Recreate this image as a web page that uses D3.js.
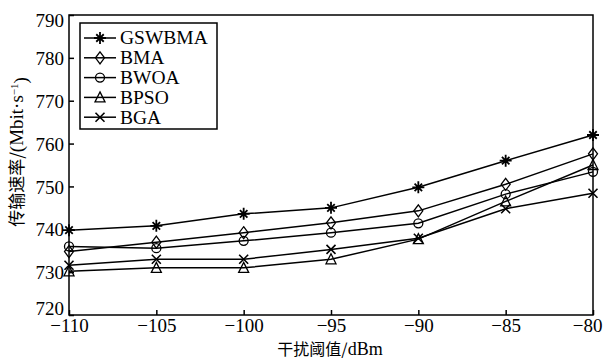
<!DOCTYPE html>
<html><head><meta charset="utf-8">
<script src="https://cdn.jsdelivr.net/npm/d3@7"></script>
<style>
body{margin:0;background:#fff;}
svg{display:block;}
text{font-family:"Liberation Serif","Times New Roman",serif;fill:#000;}
</style></head>
<body><svg id="c" width="603" height="359"></svg>
<script>
const xValues = [-110, -105, -100, -95, -90, -85, -80];
const seriesNames = ["GSWBMA", "BMA", "BWOA", "BPSO", "BGA"];
const gswbma = [739.8, 740.8, 743.6, 745.0, 749.8, 756.0, 762.0];
const bma    = [734.8, 737.0, 739.2, 741.5, 744.3, 750.5, 757.6];
const bwoa   = [736.0, 735.6, 737.3, 739.2, 741.4, 748.2, 753.4];
const bpso   = [730.2, 731.0, 731.0, 733.0, 737.7, 746.5, 755.0];
const bga    = [731.6, 733.0, 733.0, 735.3, 737.9, 744.8, 748.4];
const markers = ["star", "diamond", "circle", "triangle", "cross"];
const xTicks = [-110, -105, -100, -95, -90, -85, -80];
const yTicks = [720, 730, 740, 750, 760, 770, 780, 790];
const xTitle = "干扰阈值/dBm";
const yTitleCJK = "传输速率/";
const yTitleLatin = "(Mbit·s";

const series = [gswbma, bma, bwoa, bpso, bga];
const svg = d3.select("#c");
const L = 69, R = 593, T = 15, B = 315;
const x = d3.scaleLinear().domain([-110, -80]).range([L, R]);
const y = d3.scaleLinear().domain([720, 790]).range([B, T]);

const fmt = d => (d < 0 ? "\u2212" + Math.abs(d) : String(d));
const serif = '"Liberation Serif","Times New Roman",serif';
const cjk = '"Noto Sans CJK SC","Noto Sans CJK JP",sans-serif';

// axes
const gx = svg.append("g").attr("transform", `translate(0,${B})`)
  .call(d3.axisBottom(x).tickValues(xTicks).tickSizeInner(-5).tickSizeOuter(0).tickPadding(4).tickFormat(fmt));
const gy = svg.append("g").attr("transform", `translate(${L},0)`)
  .call(d3.axisLeft(y).tickValues(yTicks).tickSizeInner(-5).tickSizeOuter(0).tickPadding(5).tickFormat(fmt));
[gx, gy].forEach(g => {
  g.select(".domain").remove();
  g.selectAll("line").attr("stroke", "#000").attr("stroke-width", 1.5);
  g.selectAll("text").style("font-family", serif).style("font-size", "19px").attr("fill", "#000");
});
gy.selectAll("text").attr("dy", d => d === 790 ? "0.6em" : d === 720 ? "-0.05em" : "0.35em");
gx.selectAll(".tick").filter(d => d === -80).select("text")
  .attr("text-anchor", "end").attr("x", 603 - R - 1);

// frame
svg.append("rect").attr("x", L).attr("y", T).attr("width", R - L).attr("height", B - T)
  .attr("fill", "none").attr("stroke", "#000").attr("stroke-width", 1.5);

function drawMarker(g, type, cx, cy) {
  const s = 5;
  const st = {stroke: "#000", "stroke-width": 1.3, fill: "none"};
  const app = (tag) => { const e = g.append(tag); Object.entries(st).forEach(([k, v]) => e.attr(k, v)); return e; };
  if (type === "star") {
    app("path").attr("d", `M${cx - s - 1},${cy}H${cx + s + 1}M${cx},${cy - s - 1}V${cy + s + 1}M${cx - s * 0.75},${cy - s * 0.75}L${cx + s * 0.75},${cy + s * 0.75}M${cx - s * 0.75},${cy + s * 0.75}L${cx + s * 0.75},${cy - s * 0.75}`).attr("stroke-width", 1.8);
  } else if (type === "diamond") {
    app("path").attr("d", `M${cx},${cy - s - 1}L${cx + s - 0.5},${cy}L${cx},${cy + s + 1}L${cx - s + 0.5},${cy}Z`);
  } else if (type === "circle") {
    app("circle").attr("cx", cx).attr("cy", cy).attr("r", 4.5);
  } else if (type === "triangle") {
    app("path").attr("d", `M${cx},${cy - s - 0.5}L${cx + s},${cy + s - 0.5}L${cx - s},${cy + s - 0.5}Z`);
  } else if (type === "cross") {
    app("path").attr("d", `M${cx - s * 0.9},${cy - s * 0.9}L${cx + s * 0.9},${cy + s * 0.9}M${cx - s * 0.9},${cy + s * 0.9}L${cx + s * 0.9},${cy - s * 0.9}`).attr("stroke-width", 1.6);
  }
}

const line = d3.line().x(d => x(d[0])).y(d => y(d[1]));
series.forEach((vals, i) => {
  const pts = xValues.map((xv, j) => [xv, vals[j]]);
  svg.append("path").attr("d", line(pts)).attr("fill", "none").attr("stroke", "#000").attr("stroke-width", 1.5);
  const g = svg.append("g");
  pts.forEach(p => drawMarker(g, markers[i], x(p[0]), y(p[1])));
});

// legend
const lg = svg.append("g");
lg.append("rect").attr("x", 80).attr("y", 23).attr("width", 137).attr("height", 106)
  .attr("fill", "#fff").attr("stroke", "#000").attr("stroke-width", 1.5);
seriesNames.forEach((n, i) => {
  const yy = 38 + i * 19.8;
  lg.append("line").attr("x1", 84).attr("x2", 116).attr("y1", yy).attr("y2", yy).attr("stroke", "#000").attr("stroke-width", 1.5);
  drawMarker(lg, markers[i], 100, yy);
  lg.append("text").attr("x", 120).attr("y", yy).attr("dy", "0.33em").style("font-size", "19.5px").text(n);
});

// titles
const xt = svg.append("text").attr("x", 330).attr("y", 355).attr("text-anchor", "middle")
  .style("font-size", "16px");
xt.append("tspan").style("font-family", cjk).text(xTitle.slice(0, 5));
xt.append("tspan").style("font-family", serif).style("font-size", "18px").text(xTitle.slice(5));

const yt = svg.append("text").attr("transform", "translate(23,152) rotate(-90)").attr("text-anchor", "middle")
  .style("font-size", "17px");
yt.append("tspan").style("font-family", cjk).text(yTitleCJK);
yt.append("tspan").style("font-family", serif).style("font-size", "19px").text(yTitleLatin);
yt.append("tspan").attr("dy", "-0.5em").style("font-family", serif).style("font-size", "11px").text("\u22121");
yt.append("tspan").attr("dy", "0.5em").style("font-family", serif).style("font-size", "19px").text(")");
</script></body></html>
